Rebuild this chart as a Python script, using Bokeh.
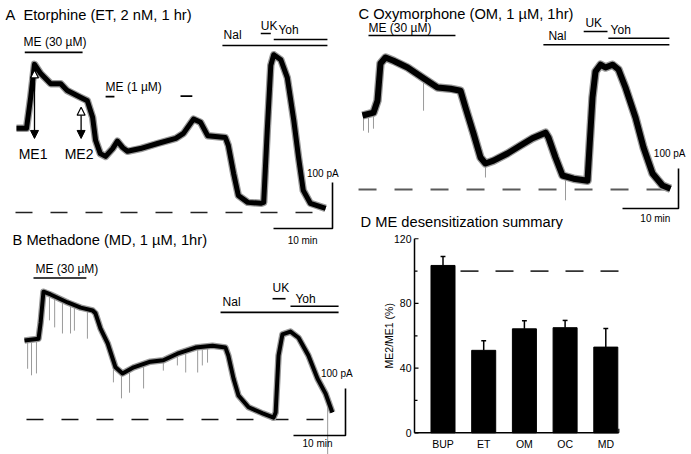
import numpy as np
from bokeh.plotting import figure
from bokeh.layouts import row, column
from bokeh.models import Range1d, Label, Arrow, NormalHead
from bokeh.core.properties import value
from bokeh.embed import file_html
from bokeh.resources import INLINE

FONT = "Liberation Sans"

# ---------------- data ----------------
# Panel A: Etorphine (time in min, holding current in pA)
a_t = [0, 1.7, 2.4, 3.05, 4.1, 5.8, 7.5, 8.6, 10.9, 12.0, 12.9, 13.4, 14.2, 15.1, 16.3, 17.1, 18.0, 18.8, 21.0, 23.9,
       27.0, 28.3, 30.0, 31.2, 32.4, 35.4, 35.9, 36.8, 37.6, 39.2, 41.4, 41.9, 42.5, 43.1, 43.6, 44.8, 45.9, 47.0, 47.8, 48.6,
       49.8, 52.4]
a_i = [183, 183, 250, 322, 302, 280, 280, 265, 250, 243, 207, 157, 128, 122, 139, 155, 141, 133, 139, 150,
       161, 172, 203, 196, 167, 163, 146, 85, 37, 22, 20, 22, 178, 320, 343, 332, 293, 200, 120, 48,
       20, 9]
a_bar_t0 = [1.4, 15.1, 27.8, 34.9, 41.4, 43.6]
a_bar_t1 = [11.2, 16.6, 29.8, 52.7, 43.1, 52.7]
a_bar_i = [348, 252, 253, 363, 389, 376]
a_lab_text = ["ME (30 µM)", "ME (1 µM)", "Nal", "UK", "Yoh"]
a_lab_t = [1.2, 15.1, 35.1, 41.4, 44.4]
a_lab_i = [370, 272, 385, 406, 396]
me_names = ["ME1", "ME2"]
me_t = [3.05, 10.95]
me_top = [310, 229]
me_bottom = [161, 161]

# Panel B: Methadone
b_t = [0, 2.7, 3.1, 3.65, 5.0, 8.3, 10.8, 13.1, 13.65, 14.6, 16.0, 17.5, 18.85, 21.0, 24.2, 26.7, 29.4, 32.9, 36.15, 38.65,
       39.2, 40.2, 41.15, 43.1, 45.8, 47.9, 48.3, 48.85, 49.6, 51.15, 52.7, 54.6, 56.35, 57.9, 59.2]
b_i = [168, 172, 206, 272, 266, 249, 238, 232, 226, 194, 162, 111, 98, 111, 123, 126, 140, 153, 157, 153,
       136, 87, 51, 26, 13, 4, 15, 136, 181, 187, 174, 136, 87, 55, 15]
b_spk_t = [0.6, 1.35, 2.3, 4.8, 5.8, 7.3, 8.85, 9.6, 12.1, 17.1, 18.65, 20.2, 22.9, 26.7, 29.4, 31.0, 33.3, 34.2, 35.2, 58.3]
b_spk_top = [168, 170, 171, 266, 262, 253, 246, 242, 234, 113, 98, 108, 118, 126, 140, 146, 154, 155, 156, 50]
b_spk_tip = [108, 94, 98, 211, 196, 183, 183, 189, 172, 79, 45, 57, 66, 104, 115, 100, 100, 115, 121, -77]
b_bar_t0 = [1.73, 37.7, 47.7, 51.15]
b_bar_t1 = [11.9, 60.4, 50.2, 60.4]
b_bar_i = [301, 228, 257, 241]
b_lab_text = ["ME (30 µM)", "Nal", "UK", "Yoh"]
b_lab_t = [2.1, 38.1, 47.7, 52.1]
b_lab_i = [321, 249, 279, 257]

# Panel C: Oxymorphone
c_t = [0, 1.96, 2.68, 3.21, 4.11, 5.54, 8.04, 10.89, 13.39, 15.71, 17.5, 18.39, 19.82, 21.07, 21.96, 23.39, 25.89, 28.21,
       30.36, 32.68, 33.21, 34.46, 35.71, 37.68, 40.18, 40.36, 41.07, 41.61, 42.5, 43.39, 44.64, 45.71, 46.96, 48.75,
       50.18, 51.79, 53.57, 55.0]
c_i = [185, 192, 222, 315, 330, 322, 305, 278, 255, 252, 247, 205, 140, 80, 65, 72, 90, 110,
       128, 142, 130, 80, 35, 27, 22, 65, 230, 295, 312, 305, 312, 300, 255, 180,
       105, 40, 10, 2]
c_spk_t = [0.18, 1.07, 1.96, 10.9, 21.96, 36.25]
c_spk_top = [185, 188, 192, 278, 65, 33]
c_spk_tip = [147, 142, 152, 197, 30, -27]
c_bar_t0 = [1.07, 32.3, 39.5, 43.9]
c_bar_t1 = [16.6, 54.8, 43.75, 54.8]
c_bar_i = [385, 362, 395, 378]
c_lab_text = ["ME (30 µM)", "Nal", "UK", "Yoh"]
c_lab_t = [1.07, 33.2, 39.8, 44.3]
c_lab_i = [405, 385, 417, 400]

# Scale bars
scale_pA = 100
scale_min = 10

# Panel D: desensitization summary
d_cats = ["BUP", "ET", "OM", "OC", "MD"]
d_ratio = [103.5, 51, 64.3, 65, 53]
d_sem = [5.5, 6, 5, 4.5, 11.5]
d_ticks = [0, 40, 80, 120]
d_minor = [20, 60, 100]
d_ref = 100
d_label = "ME2/ME1 (%)"


# ---------------- helpers ----------------
def trace_fig(fx, fy, fw, fh, t0_px, px_min, base_px, px_pa):
    p = figure(width=fw, height=fh,
               x_range=Range1d((fx - t0_px) / px_min, (fx + fw - t0_px) / px_min),
               y_range=Range1d((base_px - (fy + fh)) / px_pa, (base_px - fy) / px_pa),
               x_axis_type=None, y_axis_type=None, toolbar_location=None,
               output_backend="svg", min_border=0)
    p.outline_line_color = None
    return p


def page_label(p, fx, fy, fh, px, py, text, size, align="left"):
    p.add_layout(Label(x=px - fx, y=fh - (py - fy), x_units="screen", y_units="screen",
                       text=text, text_font=FONT, text_font_size=size,
                       text_baseline="middle", text_align=align, text_color="black"))


def draw_trace(p, t, i, w):
    p.line(t, i, line_color="#9a9a9a", line_width=w + 2.5, line_join="round")
    p.line(t, i, line_color="black", line_width=w, line_join="round")


def draw_bars(p, t0, t1, lev, lt, li, ltxt):
    p.segment(x0=t0, y0=lev, x1=t1, y1=lev, line_color="black", line_width=1.6)
    p.text(x=lt, y=li, text=ltxt, text_font=value(FONT), text_font_size="12px",
           text_baseline="middle", text_align="left", text_color="black")


def draw_scale(p, t_right, i_bottom, lab_pa_t, lab_pa_i, lab_min_t, lab_min_i):
    p.line([t_right - scale_min, t_right, t_right], [i_bottom, i_bottom, i_bottom + scale_pA],
           line_color="black", line_width=1.6)
    p.text(x=[lab_pa_t], y=[lab_pa_i], text=[f"{scale_pA} pA"], text_font=value(FONT),
           text_font_size="10px", text_baseline="middle", text_align="right", text_color="black")
    p.text(x=[lab_min_t], y=[lab_min_i], text=[f"{scale_min} min"], text_font=value(FONT),
           text_font_size="10px", text_baseline="middle", text_align="center", text_color="black")


# ---------------- Panel A ----------------
AX, AY, AW, AH = 0, 0, 356, 250
pa = trace_fig(AX, AY, AW, AH, 16, 5.9, 212, 0.46)
pa.line([-0.17, 52.4], [0, 0], line_color="#222222", line_width=1.6, line_dash="17 18")
draw_trace(pa, a_t, a_i, 5)
draw_bars(pa, a_bar_t0, a_bar_t1, a_bar_i, a_lab_t, a_lab_i, a_lab_text)
for k in range(2):
    pa.add_layout(Arrow(x_start=me_t[k], y_start=me_top[k], x_end=me_t[k], y_end=me_bottom[k],
                        line_width=1.3, line_color="black",
                        start=NormalHead(size=8, fill_color="white", line_color="black", line_width=1.2),
                        end=NormalHead(size=8, fill_color="black", line_color="black")))
pa.text(x=[me_t[0] - 0.25, me_t[1] - 0.35], y=[128, 128], text=me_names, text_font=value(FONT),
        text_font_size="14px", text_baseline="middle", text_align="center", text_color="black")
draw_scale(pa, 53.56, -34.8, 54.6, 84.8, 48.5, -60.9)
page_label(pa, AX, AY, AH, 5, 14, "A\u00a0\u00a0Etorphine (ET, 2 nM, 1 hr)", "14.7px")
page_label(pa, AX, AY, AH, 12, 239, "B Methadone (MD, 1 µM, 1hr)", "14.7px")

# ---------------- Panel B ----------------
BX, BY, BW, BH = 0, 250, 356, 204
pb = trace_fig(BX, BY, BW, BH, 24, 5.2, 419, 0.47)
pb.line([0.38, 58.8], [0, 0], line_color="#111111", line_width=1.6, line_dash="17 18")
pb.segment(x0=b_spk_t, y0=b_spk_top, x1=b_spk_t, y1=b_spk_tip, line_color="#9a9a9a", line_width=1)
draw_trace(pb, b_t, b_i, 4)
draw_bars(pb, b_bar_t0, b_bar_t1, b_bar_i, b_lab_t, b_lab_i, b_lab_text)
draw_scale(pb, 61.73, -34, 63.1, 98, 56.35, -51)

# ---------------- Panel C ----------------
CX, CY, CW, CH = 356, 0, 335, 229
pc = trace_fig(CX, CY, CW, CH, 362, 5.6, 189, 0.40)
pc.line([-0.71, 55.0], [0, 0], line_color="#5a5a5a", line_width=2, line_dash="18 18")
pc.segment(x0=c_spk_t, y0=c_spk_top, x1=c_spk_t, y1=c_spk_tip, line_color="#9a9a9a", line_width=1)
draw_trace(pc, c_t, c_i, 6)
draw_bars(pc, c_bar_t0, c_bar_t1, c_bar_i, c_lab_t, c_lab_i, c_lab_text)
draw_scale(pc, 56.43, -47.5, 57.68, 90, 52.3, -72.5)
page_label(pc, CX, CY, CH, 358, 13, "C Oxymorphone (OM, 1 µM, 1hr)", "14.7px")
page_label(pc, CX, CY, CH, 360, 221, "D ME desensitization summary", "14.7px")

# ---------------- Panel D (bar chart, axes drawn through its own scales) ----------------
DX, DY, DW, DH = 356, 229, 335, 225
D_X0_PX, D_PX_UNIT = 442.5, 40.7      # page x of first category, px per category
D_Y0_PX, D_PX_PCT = 432.3, 1.617      # page y of 0 %, px per %
pd_ = figure(width=DW, height=DH,
             x_range=Range1d((DX - D_X0_PX) / D_PX_UNIT, (DX + DW - D_X0_PX) / D_PX_UNIT),
             y_range=Range1d((D_Y0_PX - (DY + DH)) / D_PX_PCT, (D_Y0_PX - DY) / D_PX_PCT),
             x_axis_type=None, y_axis_type=None, toolbar_location=None,
             output_backend="svg", min_border=0)
pd_.outline_line_color = None
xs = np.arange(len(d_cats))
x_lo, x_hi = -0.70, 4.32               # extent of the category axis
y_lo, y_hi = d_ticks[0], d_ticks[-1]
tick_len = 4 / D_PX_UNIT
minor_len = 3 / D_PX_UNIT

pd_.vbar(x=xs, top=d_ratio, width=0.59, fill_color="black", line_color="black")
tops = np.array(d_ratio) + np.array(d_sem)
pd_.segment(x0=xs, y0=d_ratio, x1=xs, y1=tops, line_color="black", line_width=1.5)
pd_.segment(x0=xs - 0.06, y0=tops, x1=xs + 0.06, y1=tops, line_color="black", line_width=1.5)
pd_.line([0.43, x_hi], [d_ref, d_ref], line_color="#333333", line_width=1.6, line_dash="18 17")

# axes
pd_.segment(x0=[x_lo, x_lo], y0=[y_lo, y_lo], x1=[x_lo, x_hi], y1=[y_hi, y_lo],
            line_color="black", line_width=1.5)
pd_.segment(x0=[x_lo] * len(d_ticks), y0=d_ticks, x1=[x_lo + tick_len] * len(d_ticks), y1=d_ticks,
            line_color="black", line_width=1.2)
pd_.segment(x0=[x_lo] * len(d_minor), y0=d_minor, x1=[x_lo + minor_len] * len(d_minor), y1=d_minor,
            line_color="black", line_width=1.2)
pd_.segment(x0=[x_hi], y0=[y_lo], x1=[x_hi], y1=[y_lo + 2.5], line_color="black", line_width=1.2)
pd_.text(x=[x_lo - 3 / D_PX_UNIT] * len(d_ticks), y=d_ticks, text=[str(t) for t in d_ticks],
         text_font=value(FONT), text_font_size="10.5px", text_align="right", text_baseline="middle",
         text_color="black")
pd_.text(x=xs, y=[-11 / D_PX_PCT] * len(xs), text=d_cats,
         text_font=value(FONT), text_font_size="10.5px", text_align="center", text_baseline="middle",
         text_color="black")
pd_.text(x=[x_lo - 26 / D_PX_UNIT], y=[(y_lo + y_hi) / 2], text=[d_label], angle=np.pi / 2,
         text_font=value(FONT), text_font_size="10.5px", text_align="center", text_baseline="middle",
         text_color="black")

layout = row(column(pa, pb), column(pc, pd_))

html = file_html(layout, INLINE)
with open("out.html", "w") as f:
    f.write(html)
